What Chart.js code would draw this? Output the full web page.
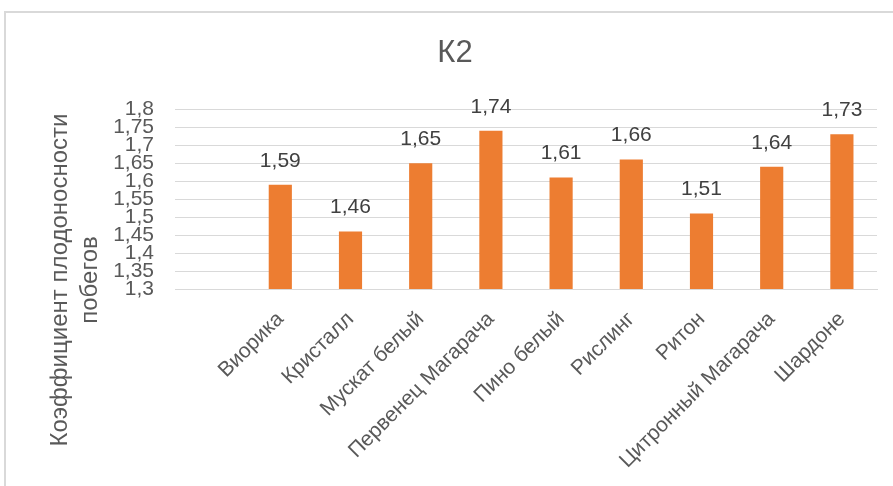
<!DOCTYPE html>
<html>
<head>
<meta charset="utf-8">
<script src="https://cdn.jsdelivr.net/npm/chart.js@4.4.0/dist/chart.umd.min.js"></script>
<style>
  html, body { margin: 0; padding: 0; background: #fff; overflow: hidden; }
  #frame { position: absolute; left: 4px; top: 11px; width: 1000px; height: 1000px; border: 2px solid #d9d9d9; }
  #wrap { position: absolute; left: 0; top: 0; width: 893px; height: 486px; }
</style>
</head>
<body>
<div id="frame"></div>
<div id="wrap"><canvas id="k2-chart" width="893" height="486"></canvas></div>
<script>
// Sort names (first slot is left empty, as in the source sheet)
const varieties = ['', 'Виорика', 'Кристалл', 'Мускат белый', 'Первенец Магарача', 'Пино белый',
    'Рислинг', 'Ритон', 'Цитронный Магарача', 'Шардоне'];
// K2 shoot fruitfulness coefficient
const k2Values = [null, 1.59, 1.46, 1.65, 1.74, 1.61, 1.66, 1.51, 1.64, 1.73];
const yTickLabels = ['1,3', '1,35', '1,4', '1,45', '1,5', '1,55', '1,6', '1,65', '1,7', '1,75', '1,8'];
const chartTitle = 'К2';
const yTitleLines = ['Коэффициент плодоносности', 'побегов'];

const FONT = '"Liberation Sans", Arial, sans-serif';

// value above each bar
const valueLabels = {
    id: 'valueLabels',
    afterDatasetsDraw(chart) {
        const ctx = chart.ctx;
        const meta = chart.getDatasetMeta(0);
        ctx.save();
        ctx.font = '21px ' + FONT;
        ctx.fillStyle = '#404040';
        ctx.textAlign = 'center';
        ctx.textBaseline = 'middle';
        meta.data.forEach((bar, i) => {
            const v = k2Values[i];
            if (v == null) return;
            ctx.fillText(v.toFixed(2).replace('.', ','), bar.x, bar.y - 24);
        });
        ctx.restore();
    }
};

// two-line vertical axis title
const yAxisTitle = {
    id: 'yAxisTitle',
    afterDraw(chart) {
        const ctx = chart.ctx;
        ctx.save();
        ctx.font = '24px ' + FONT;
        ctx.fillStyle = '#595959';
        ctx.textAlign = 'center';
        ctx.textBaseline = 'middle';
        yTitleLines.forEach((line, i) => {
            ctx.save();
            ctx.translate(60 + i * 30, 280);
            ctx.rotate(-Math.PI / 2);
            ctx.fillText(line, 0, 0);
            ctx.restore();
        });
        ctx.restore();
    }
};

const ctx = document.getElementById('k2-chart').getContext('2d');
new Chart(ctx, {
    type: 'bar',
    data: {
        labels: varieties,
        datasets: [{
            data: k2Values,
            backgroundColor: '#ED7D31',
            categoryPercentage: 1,
            barPercentage: 0.33
        }]
    },
    options: {
        responsive: false,
        animation: false,
        layout: { padding: { left: 33, right: 16, top: 0, bottom: 0 } },
        plugins: {
            legend: { display: false },
            tooltip: { enabled: false },
            title: {
                display: true,
                text: chartTitle,
                color: '#595959',
                font: { family: FONT, size: 31, weight: 'normal' },
                padding: { top: 35, bottom: 37 }
            }
        },
        scales: {
            x: {
                grid: { display: false },
                border: { color: '#d9d9d9', width: 1 },
                ticks: {
                    color: '#595959',
                    font: { family: FONT, size: 21 },
                    maxRotation: 45,
                    minRotation: 45,
                    autoSkip: false,
                    padding: 10
                },
                afterFit(scale) { scale.height = 197; }
            },
            y: {
                min: 1.3,
                max: 1.8,
                grid: { color: '#d9d9d9', drawTicks: false },
                border: { display: false },
                ticks: {
                    stepSize: 0.05,
                    autoSkip: false,
                    color: '#595959',
                    font: { family: FONT, size: 21 },
                    padding: 21,
                    callback: (value, index) => yTickLabels[index]
                },
                afterFit(scale) { scale.width = 142; }
            }
        }
    },
    plugins: [valueLabels, yAxisTitle]
});
</script>
</body>
</html>
